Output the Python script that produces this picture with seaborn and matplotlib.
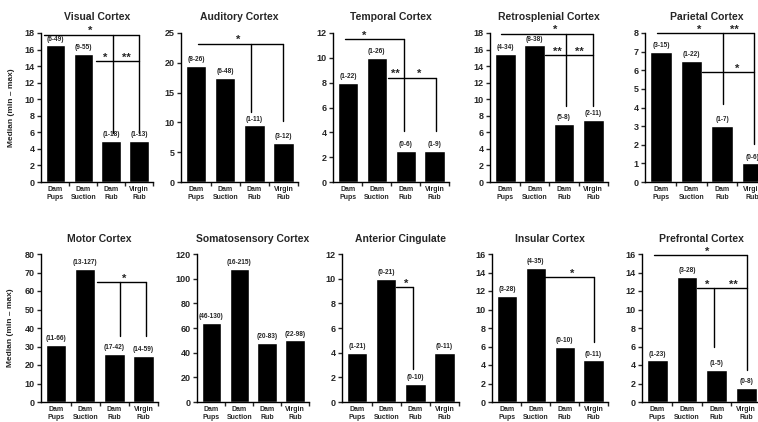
import matplotlib
matplotlib.use('Agg')
import pandas as pd
import matplotlib.pyplot as plt
import seaborn as sns

groups = ['Dam\nPups', 'Dam\nSuction', 'Dam\nRub', 'Virgin\nRub']

titles = ['Visual Cortex', 'Auditory Cortex', 'Temporal Cortex', 'Retrosplenial Cortex', 'Parietal Cortex',
          'Motor Cortex', 'Somatosensory Cortex', 'Anterior Cingulate', 'Insular Cortex', 'Prefrontal Cortex']

# medians per region
visual = [16.5, 15.5, 5, 5]
auditory = [19.5, 17.5, 9.5, 6.5]
temporal = [8, 10, 2.5, 2.5]
retrosplenial = [15.5, 16.5, 7, 7.5]
parietal = [7, 6.5, 3, 1]
motor = [31, 72, 26, 25]
somatosensory = [64, 108, 48, 50]
ant_cingulate = [4, 10, 1.5, 4]
insular = [11.5, 14.5, 6, 4.5]
prefrontal = [4.5, 13.5, 3.5, 1.5]

# (min-max) labels
visual_rng = ['(6-49)', '(9-55)', '(1-18)', '(1-13)']
auditory_rng = ['(8-26)', '(6-48)', '(1-11)', '(3-12)']
temporal_rng = ['(1-22)', '(1-26)', '(0-6)', '(1-9)']
retrosplenial_rng = ['(4-34)', '(8-38)', '(5-8)', '(2-11)']
parietal_rng = ['(3-15)', '(1-22)', '(1-7)', '(0-6)']
motor_rng = ['(11-66)', '(13-127)', '(17-42)', '(14-59)']
somatosensory_rng = ['(46-130)', '(16-215)', '(20-83)', '(22-98)']
ant_cingulate_rng = ['(1-21)', '(0-21)', '(0-10)', '(0-11)']
insular_rng = ['(3-28)', '(4-35)', '(0-10)', '(0-11)']
prefrontal_rng = ['(1-23)', '(3-28)', '(1-5)', '(0-8)']

# y axis max and tick step
y_max = [18, 25, 12, 18, 8, 80, 120, 12, 16, 16]
y_step = [2, 5, 2, 2, 1, 10, 20, 2, 2, 2]

# significance brackets: ('h', x0, x1, y) / ('v', x, y0, y1), stars: (x, y, text)
visual_lines = [('h', -0.4, 3.0, 17.8), ('v', 2.05, 17.8, 5.9), ('v', 3.0, 17.8, 5.9), ('h', 1.45, 3.0, 14.6)]
visual_stars = [(1.25, 17.8, '*'), (1.8, 14.6, '*'), (2.55, 14.6, '**')]
auditory_lines = [('h', 0.05, 3.0, 23.2), ('v', 1.9, 23.2, 11.7), ('v', 3.0, 23.2, 10.3)]
auditory_stars = [(1.45, 23.2, '*')]
temporal_lines = [('h', -0.12, 1.94, 11.5), ('v', 1.94, 11.5, 4.1), ('h', 1.38, 3.05, 8.4), ('v', 3.05, 8.4, 4.1)]
temporal_stars = [(0.55, 11.5, '*'), (1.65, 8.4, '**'), (2.45, 8.4, '*')]
retrosplenial_lines = [('h', -0.14, 3.0, 17.9), ('v', 2.07, 17.9, 9.2), ('v', 3.0, 17.9, 9.2), ('h', 1.36, 3.0, 15.3)]
retrosplenial_stars = [(1.7, 17.9, '*'), (1.77, 15.3, '**'), (2.53, 15.3, '**')]
parietal_lines = [('h', -0.12, 3.05, 8.0), ('v', 2.02, 8.0, 4.2), ('v', 3.05, 8.0, 2.06), ('h', 1.35, 3.05, 5.9)]
parietal_stars = [(1.25, 8.0, '*'), (2.4, 8.0, '**'), (2.5, 5.9, '*')]
motor_lines = [('h', 1.42, 3.1, 64.7), ('v', 2.18, 64.7, 35.5), ('v', 3.1, 64.7, 35.5)]
motor_stars = [(2.33, 64.7, '*')]
ant_cingulate_lines = [('h', 1.34, 1.93, 9.3), ('v', 1.93, 9.3, 2.7)]
ant_cingulate_stars = [(1.69, 9.3, '*')]
insular_lines = [('h', 1.33, 3.02, 13.5), ('v', 3.02, 13.5, 6.45)]
insular_stars = [(2.26, 13.5, '*')]
prefrontal_lines = [('h', -0.1, 3.02, 15.85), ('v', 3.02, 15.85, 3.5), ('h', 1.33, 3.02, 12.3), ('v', 1.9, 12.3, 6.0)]
prefrontal_stars = [(1.67, 15.85, '*'), (1.67, 12.3, '*'), (2.55, 12.3, '**')]

medians = [visual, auditory, temporal, retrosplenial, parietal,
           motor, somatosensory, ant_cingulate, insular, prefrontal]
ranges = [visual_rng, auditory_rng, temporal_rng, retrosplenial_rng, parietal_rng,
          motor_rng, somatosensory_rng, ant_cingulate_rng, insular_rng, prefrontal_rng]
lines = [visual_lines, auditory_lines, temporal_lines, retrosplenial_lines, parietal_lines,
         motor_lines, [], ant_cingulate_lines, insular_lines, prefrontal_lines]
stars = [visual_stars, auditory_stars, temporal_stars, retrosplenial_stars, parietal_stars,
         motor_stars, [], ant_cingulate_stars, insular_stars, prefrontal_stars]

sns.set_style('ticks')
plt.rcParams['font.family'] = ['Liberation Sans', 'DejaVu Sans']

W, H = 758, 422
fig = plt.figure(figsize=(W / 100, H / 100), dpi=100)

# pixel layout of the panels (the right column runs off the figure, as in the source)
row_top = [33, 254]
row_bottom = [182, 402]
lefts = [[41, 181, 333, 490, 645], [41, 197, 342, 492, 642]]
widths = [[112, 117, 116, 118, 123], [117, 112, 117, 116, 119]]

for i in range(10):
    r, c = divmod(i, 5)
    ax = fig.add_axes([lefts[r][c] / W, 1 - row_bottom[r] / H,
                       widths[r][c] / W, (row_bottom[r] - row_top[r]) / H])
    df = pd.DataFrame({'group': groups, 'median': medians[i]})
    sns.barplot(data=df, x='group', y='median', color='black', saturation=1,
                width=0.7, ax=ax)

    ax.set_xlim(-0.52, 3.5)
    ax.set_ylim(0, y_max[i])
    ax.set_yticks(range(0, y_max[i] + 1, y_step[i]))
    ax.tick_params(axis='y', labelsize=6.5, length=3, width=1, pad=1.5)
    for lab in ax.get_yticklabels():
        lab.set_fontweight('bold')

    # boundary tick marks, labels at the bar centres
    ax.set_xticks([0.5, 1.5, 2.5, 3.5])
    ax.set_xticklabels([])
    ax.tick_params(axis='x', which='major', length=3, width=1)
    ax.set_xticks([0, 1, 2, 3], minor=True)
    ax.set_xticklabels(groups, minor=True, fontsize=5, fontweight='bold', linespacing=1.15)
    ax.tick_params(axis='x', which='minor', length=0, pad=3)

    sns.despine(ax=ax)
    for s in ['left', 'bottom']:
        ax.spines[s].set_linewidth(1)
        ax.spines[s].set_color('black')

    ax.set_xlabel('')
    if c == 0:
        ax.set_ylabel('Median (min \u2013 max)', fontsize=6, fontweight='bold')
        ax.yaxis.set_label_coords(-0.23, 0.5)
    else:
        ax.set_ylabel('')
    ax.set_title(titles[i], fontsize=7.5, fontweight='bold', pad=9)

    for j, (v, t) in enumerate(zip(medians[i], ranges[i])):
        ax.annotate(t, (j, v), xytext=(0, 2), textcoords='offset points',
                    ha='center', va='bottom', fontsize=4.7, fontweight='bold')

    for seg in lines[i]:
        if seg[0] == 'h':
            ax.plot([seg[1], seg[2]], [seg[3], seg[3]], color='black', lw=1, clip_on=False)
        else:
            ax.plot([seg[1], seg[1]], [seg[2], seg[3]], color='black', lw=1, clip_on=False)
    for x, y, t in stars[i]:
        ax.annotate(t, (x, y), xytext=(0, -1), textcoords='offset points',
                    ha='center', va='bottom', fontsize=8, fontweight='bold')

fig.savefig('out.png', dpi=100)
